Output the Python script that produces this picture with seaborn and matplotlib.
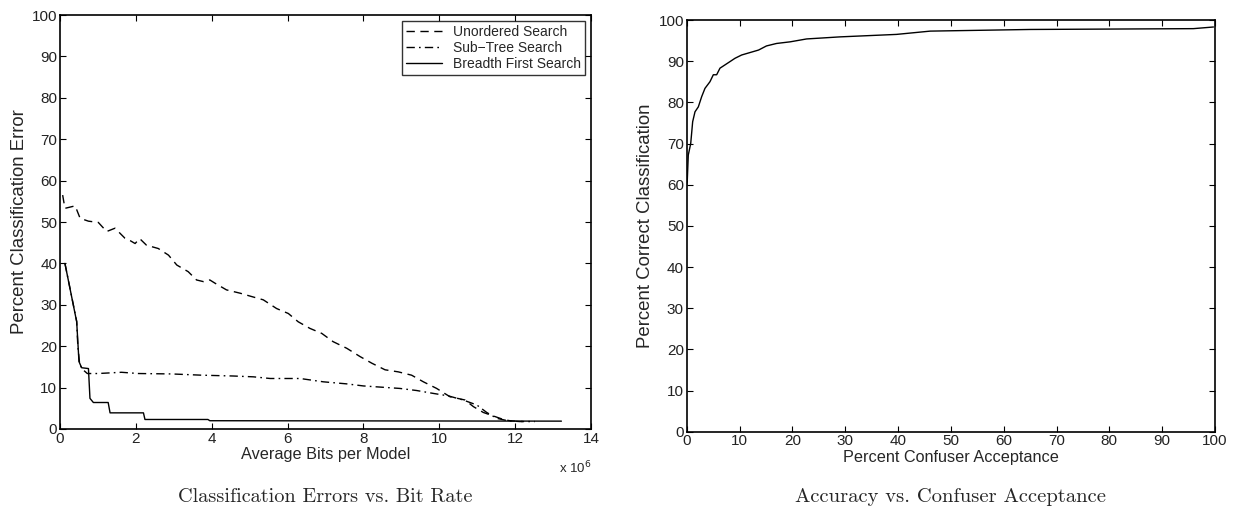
import matplotlib
matplotlib.use("Agg")
import matplotlib.pyplot as plt
import seaborn as sns
import pandas as pd

# ---------------- data ----------------
# Left panel: x in units of 10^6 bits per model, y = percent classification error
unordered_x = [0.07, 0.13, 0.40, 0.53, 0.75, 1.01, 1.23, 1.45, 1.71, 1.85, 1.98, 2.10, 2.28, 2.59,
               2.86, 3.08, 3.38, 3.60, 3.78, 3.95, 4.09, 4.39, 4.75, 5.05, 5.36, 5.71, 6.02,
               6.28, 6.59, 6.90, 7.20, 7.56, 7.91, 8.22, 8.57, 8.92, 9.27, 9.58, 9.93, 10.28,
               10.68, 10.90, 11.16, 11.47, 11.69, 11.86, 12.20]
unordered_y = [56.5, 53.3, 53.9, 50.9, 50.2, 49.9, 47.7, 48.5, 46.1, 45.5, 44.8, 46.0, 44.4, 43.6,
               42.0, 39.6, 38.0, 36.0, 35.6, 36.0, 35.2, 33.6, 32.8, 32.0, 31.2, 29.1, 27.9,
               25.9, 24.3, 23.1, 21.1, 19.5, 17.5, 15.9, 14.3, 13.8, 13.0, 11.4, 9.8, 7.8,
               7.0, 5.4, 4.0, 3.0, 2.3, 2.0, 1.8]

subtree_x = [0.13, 0.44, 0.47, 0.52, 0.62, 0.72, 1.00, 1.62, 2.07, 2.94, 3.73, 4.57, 5.10, 5.54,
             6.33, 6.94, 7.56, 8.00, 8.48, 8.96, 9.40, 9.84, 10.24, 10.63, 10.99, 11.25, 11.51,
             11.80, 12.13, 12.52]
subtree_y = [40.0, 26.0, 20.0, 15.5, 14.2, 13.4, 13.4, 13.7, 13.4, 13.3, 13.0, 12.8, 12.6, 12.2,
             12.2, 11.4, 10.9, 10.4, 10.1, 9.8, 9.3, 8.6, 8.0, 7.0, 5.8, 4.0, 2.6,
             2.0, 1.8, 1.8]

breadth_x = [0.13, 0.44, 0.50, 0.57, 0.75, 0.79, 0.88, 1.27, 1.32, 2.20, 2.24, 3.90, 3.95, 13.22]
breadth_y = [40.0, 25.9, 16.3, 14.8, 14.6, 7.4, 6.4, 6.4, 3.9, 3.9, 2.3, 2.3, 2.0, 1.9]

series_names = ["Unordered Search", "Sub\u2212Tree Search", "Breadth First Search"]

# Right panel: percent confuser acceptance vs percent correct classification
conf_x = [0, 0.1, 0.3, 0.76, 1.13, 1.57, 2.2, 2.84, 3.46, 4.4, 5.04, 5.67, 6.3, 7.25, 8.2,
          9.14, 10.4, 12.0, 13.6, 15.1, 17.0, 19.6, 22.7, 26.5, 29.0, 39.7, 46.1, 65.0,
          95.9, 99.7]
conf_y = [60.0, 60.7, 67.2, 70.0, 75.3, 77.7, 78.9, 81.4, 83.4, 85.0, 86.7, 86.7, 88.3, 89.1,
          89.9, 90.7, 91.5, 92.1, 92.7, 93.7, 94.3, 94.7, 95.4, 95.7, 95.9, 96.5, 97.3, 97.7,
          97.9, 98.3]

left_xticks = [0, 2, 4, 6, 8, 10, 12, 14]
yticks = [0, 10, 20, 30, 40, 50, 60, 70, 80, 90, 100]
right_xticks = [0, 10, 20, 30, 40, 50, 60, 70, 80, 90, 100]

# ---------------- style ----------------
sns.set_style("ticks")
plt.rcParams["font.family"] = ["Liberation Sans", "DejaVu Sans"]
plt.rcParams["axes.linewidth"] = 1.2
plt.rcParams["xtick.direction"] = "in"
plt.rcParams["ytick.direction"] = "in"

fig = plt.figure(figsize=(12.34, 5.12), dpi=100)
ax1 = fig.add_axes([60 / 1234, 1 - 429 / 512, (591 - 60) / 1234, (429 - 15) / 512])
ax2 = fig.add_axes([686.7 / 1234, 1 - 431.7 / 512, (1215 - 686.7) / 1234, (431.7 - 20) / 512])

# left panel
df_left = pd.concat([
    pd.DataFrame({"x": unordered_x, "y": unordered_y, "series": series_names[0]}),
    pd.DataFrame({"x": subtree_x, "y": subtree_y, "series": series_names[1]}),
    pd.DataFrame({"x": breadth_x, "y": breadth_y, "series": series_names[2]}),
], ignore_index=True)

styles = {series_names[0]: (0, (6, 4)), series_names[1]: (0, (6, 3, 1.2, 3)),
          series_names[2]: "-"}
for name in series_names:
    sub = df_left[df_left["series"] == name]
    sns.lineplot(data=sub, x="x", y="y", ax=ax1, color="black", linewidth=1.0,
                 estimator=None, sort=False, label=name, linestyle=styles[name])

ax1.set_xlim(0, 14)
ax1.set_ylim(0, 100)
ax1.set_xticks(left_xticks)
ax1.set_yticks(yticks)
ax1.set_xlabel("Average Bits per Model", fontsize=11.7, labelpad=1)
ax1.set_ylabel("Percent Classification Error", fontsize=13.4, labelpad=3)
ax1.text(1.0, -0.075, "x 10$^6$", transform=ax1.transAxes, ha="right", va="top", fontsize=9.5)
leg = ax1.legend(loc="upper right", fontsize=10, frameon=True, fancybox=False,
                 edgecolor="black", borderaxespad=0.4, handlelength=2.6,
                 borderpad=0.3, labelspacing=0.15)
leg.get_frame().set_linewidth(1.0)

# right panel
df_right = pd.DataFrame({"x": conf_x, "y": conf_y})
sns.lineplot(data=df_right, x="x", y="y", ax=ax2, color="black", linewidth=1.0,
             estimator=None, sort=False)
ax2.set_xlim(0, 100)
ax2.set_ylim(0, 100)
ax2.set_xticks(right_xticks)
ax2.set_yticks(yticks)
ax2.set_xlabel("Percent Confuser Acceptance", fontsize=11.7, labelpad=1)
ax2.set_ylabel("Percent Correct Classification", fontsize=13.4, labelpad=3)

for ax in (ax1, ax2):
    for s in ax.spines.values():
        s.set_visible(True)
        s.set_color("black")
    ax.tick_params(axis="both", which="both", top=True, right=True, length=4, width=0.8,
                   labelsize=11, pad=2, color="black", labelcolor="#222222")

fig.text((60 + 591) / 2 / 1234, 1 - 497 / 512, "Classification Errors vs. Bit Rate",
         ha="center", va="center", fontsize=14.6, family="cmr10")
fig.text((686.7 + 1215) / 2 / 1234, 1 - 497 / 512, "Accuracy vs. Confuser Acceptance",
         ha="center", va="center", fontsize=14.8, family="cmr10")

fig.savefig("out.png", dpi=100)
